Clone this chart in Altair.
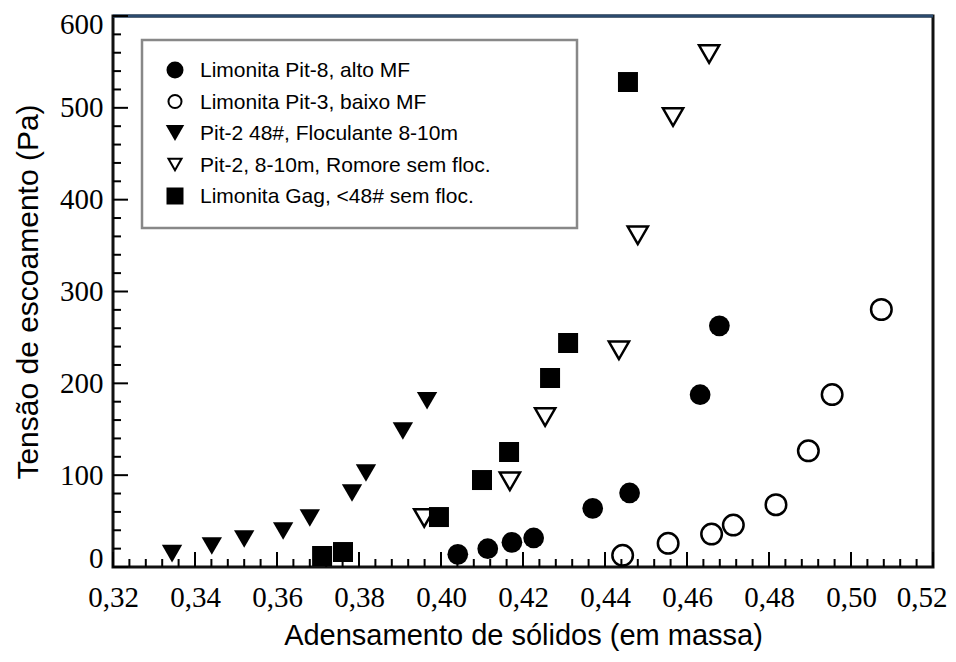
import altair as alt
import pandas as pd

SERIES = [
    "Limonita Pit-8, alto MF",
    "Limonita Pit-3, baixo MF",
    "Pit-2 48#, Floculante 8-10m",
    "Pit-2, 8-10m, Romore sem floc.",
    "Limonita Gag, <48# sem floc.",
]

pit8_x = [0.4041, 0.4114, 0.4173, 0.4226, 0.4370, 0.4460, 0.4632, 0.4679]
pit8_y = [13.8, 19.9, 26.9, 31.6, 63.9, 80.6, 187.6, 262.6]

pit3_x = [0.4443, 0.4554, 0.4660, 0.4713, 0.4817, 0.4896, 0.4954, 0.5074]
pit3_y = [12.7, 25.8, 35.9, 45.7, 67.8, 126.5, 187.8, 280.4]

floc_x = [0.3344, 0.3441, 0.3520, 0.3615, 0.3680, 0.3783, 0.3817, 0.3907, 0.3966]
floc_y = [14.5, 22.9, 30.5, 39.2, 53.4, 80.6, 102.4, 148.1, 181.0]

romore_x = [0.3959, 0.4168, 0.4254, 0.4434, 0.4480, 0.4566, 0.4654]
romore_y = [53.4, 93.3, 163.3, 236.0, 361.2, 490.0, 558.6]

gag_x = [0.3710, 0.3761, 0.3995, 0.4100, 0.4166, 0.4266, 0.4310, 0.4456]
gag_y = [12.0, 16.3, 54.4, 94.7, 125.2, 205.8, 243.9, 528.1]

X_LABELS = [0.32, 0.34, 0.36, 0.38, 0.40, 0.42, 0.44, 0.46, 0.48, 0.50, 0.52]
Y_LABELS = [0, 100, 200, 300, 400, 500, 600]
X_MINOR = [round(0.32 + 0.004 * i, 3) for i in range(51) if i % 5 != 0]
Y_MINOR = [20 * i for i in range(31) if i % 5 != 0]

SHAPES = ["circle", "circle", "triangle-down", "triangle-down", "square"]
FILLS = ["black", "transparent", "black", "transparent", "black"]
STROKES = ["transparent", "black", "transparent", "black", "transparent"]
SIZES = [430, 400, 680, 380, 289]
LEGEND_SIZES = [289, 170, 340, 170, 289]

rows = []
for name, xs, ys in [
    (SERIES[0], pit8_x, pit8_y),
    (SERIES[1], pit3_x, pit3_y),
    (SERIES[2], floc_x, floc_y),
    (SERIES[3], romore_x, romore_y),
    (SERIES[4], gag_x, gag_y),
]:
    for xv, yv in zip(xs, ys):
        rows.append({"series": name, "x": xv, "y": yv})
df = pd.DataFrame(rows)
legend_df = pd.DataFrame({"series": SERIES})

W, H = 820, 551
xscale = alt.Scale(domain=[0.32, 0.52], nice=False, zero=False)
yscale = alt.Scale(domain=[0, 600], nice=False, zero=False)
shape_scale = alt.Scale(domain=SERIES, range=SHAPES)
fill_scale = alt.Scale(domain=SERIES, range=FILLS)
stroke_scale = alt.Scale(domain=SERIES, range=STROKES)

LAST = "datum.value > 0.515"
x_label_axis = alt.Axis(
    values=X_LABELS, ticks=False, domain=False, grid=False, labelFlush=False,
    labelExpr="replace(format(datum.value, '.2f'), '.', ',')",
    labelAlign={"condition": {"test": LAST, "value": "right"}, "value": "center"},
    labelOffset={"condition": {"test": LAST, "value": 14}, "value": 0},
    labelFont="Liberation Serif", labelFontSize=29, labelColor="black",
    labelPadding=16, title="Adensamento de sólidos (em massa)",
    titleFont="Liberation Sans", titleFontSize=29, titleFontWeight="normal",
    titleColor="black", titlePadding=9,
)
y_label_axis = alt.Axis(
    values=Y_LABELS, ticks=False, domain=False, grid=False,
    labelFlush=True, labelFlushOffset=6,
    labelFont="Liberation Serif", labelFontSize=29, labelColor="black",
    labelPadding=10, title="Tensão de escoamento (Pa)",
    titleFont="Liberation Sans", titleFontSize=30, titleFontWeight="normal",
    titleColor="black", titlePadding=16,
)

points = alt.Chart(df).mark_point(opacity=1, strokeWidth=2.5).encode(
    x=alt.X("x:Q", scale=xscale, axis=x_label_axis),
    y=alt.Y("y:Q", scale=yscale, axis=y_label_axis),
    shape=alt.Shape("series:N", scale=shape_scale, legend=None),
    fill=alt.Fill("series:N", scale=fill_scale, legend=None),
    stroke=alt.Stroke("series:N", scale=stroke_scale, legend=None),
    size=alt.Size("series:N", scale=alt.Scale(domain=SERIES, range=SIZES), legend=None),
)

dummy = pd.DataFrame({"k": [0]})
frame = alt.Chart(dummy).mark_rect(fill="white", stroke="#888888", strokeWidth=2.5).encode(
    x=alt.value(29), x2=alt.value(464), y=alt.value(24), y2=alt.value(212)
)
top_rule = alt.Chart(dummy).mark_rule(color="#2b4a6e", strokeWidth=3).encode(
    x=alt.value(0), x2=alt.value(W), y=alt.value(0)
)


def y_ticks(vals, length):
    return alt.Chart(pd.DataFrame({"y": vals})).mark_rule(color="black", strokeWidth=2).encode(
        y=alt.Y("y:Q", scale=yscale, axis=y_label_axis), x=alt.value(0), x2=alt.value(length)
    )


def x_ticks(vals, length):
    return alt.Chart(pd.DataFrame({"x": vals})).mark_rule(color="black", strokeWidth=2).encode(
        x=alt.X("x:Q", scale=xscale, axis=x_label_axis), y=alt.value(H), y2=alt.value(H - length)
    )


legend_layers = []
for i, name in enumerate(SERIES):
    row_y = 54 + 31.5 * i
    base = alt.Chart(legend_df).transform_filter(alt.datum.series == name)
    legend_layers.append(
        base.mark_point(opacity=1, strokeWidth=2).encode(
            x=alt.value(62), y=alt.value(row_y),
            shape=alt.Shape("series:N", scale=shape_scale, legend=None),
            fill=alt.Fill("series:N", scale=fill_scale, legend=None),
            stroke=alt.Stroke("series:N", scale=stroke_scale, legend=None),
            size=alt.value(LEGEND_SIZES[i]),
        )
    )
    legend_layers.append(
        base.mark_text(
            align="left", baseline="middle", font="Liberation Sans", fontSize=21,
            color="black", dy=1,
        ).encode(x=alt.value(87), y=alt.value(row_y), text="series:N")
    )

chart = alt.layer(
    points, frame, top_rule,
    y_ticks(Y_LABELS, 15), y_ticks(Y_MINOR, 8),
    x_ticks(X_LABELS, 15), x_ticks(X_MINOR, 8),
    *legend_layers,
).properties(
    width=W, height=H,
    autosize=alt.AutoSizeParams(type="none"),
    padding={"left": 105, "top": 8, "right": 15, "bottom": 85},
).configure_view(stroke="#111111", strokeWidth=3)

chart.save("out.html", embed_options={"renderer": "svg", "actions": False})
